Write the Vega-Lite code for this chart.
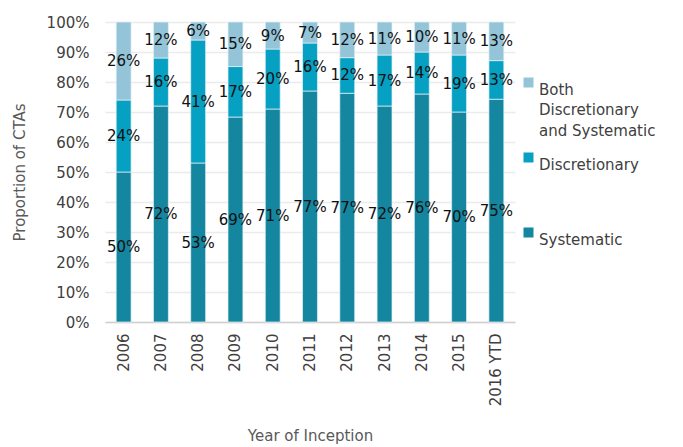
{
  "$schema": "https://vega.github.io/schema/vega-lite/v6.json",
  "width": 410,
  "height": 300,
  "autosize": {"type": "none"},
  "padding": {"left": 105, "top": 22, "right": 168, "bottom": 125},
  "background": "white",
  "config": {
    "font": "DejaVu Sans",
    "view": {"stroke": null},
    "style": {"guide-label": {"lineHeight": 20.5}}
  },
  "data": {
    "values": [
      {"year": "2006", "series": "Systematic", "value": 0.50},
      {"year": "2006", "series": "Discretionary", "value": 0.24},
      {"year": "2006", "series": "Both Discretionary and Systematic", "value": 0.26},
      {"year": "2007", "series": "Systematic", "value": 0.72},
      {"year": "2007", "series": "Discretionary", "value": 0.16},
      {"year": "2007", "series": "Both Discretionary and Systematic", "value": 0.12},
      {"year": "2008", "series": "Systematic", "value": 0.53},
      {"year": "2008", "series": "Discretionary", "value": 0.41},
      {"year": "2008", "series": "Both Discretionary and Systematic", "value": 0.06},
      {"year": "2009", "series": "Systematic", "value": 0.69},
      {"year": "2009", "series": "Discretionary", "value": 0.17},
      {"year": "2009", "series": "Both Discretionary and Systematic", "value": 0.15},
      {"year": "2010", "series": "Systematic", "value": 0.71},
      {"year": "2010", "series": "Discretionary", "value": 0.20},
      {"year": "2010", "series": "Both Discretionary and Systematic", "value": 0.09},
      {"year": "2011", "series": "Systematic", "value": 0.77},
      {"year": "2011", "series": "Discretionary", "value": 0.16},
      {"year": "2011", "series": "Both Discretionary and Systematic", "value": 0.07},
      {"year": "2012", "series": "Systematic", "value": 0.77},
      {"year": "2012", "series": "Discretionary", "value": 0.12},
      {"year": "2012", "series": "Both Discretionary and Systematic", "value": 0.12},
      {"year": "2013", "series": "Systematic", "value": 0.72},
      {"year": "2013", "series": "Discretionary", "value": 0.17},
      {"year": "2013", "series": "Both Discretionary and Systematic", "value": 0.11},
      {"year": "2014", "series": "Systematic", "value": 0.76},
      {"year": "2014", "series": "Discretionary", "value": 0.14},
      {"year": "2014", "series": "Both Discretionary and Systematic", "value": 0.10},
      {"year": "2015", "series": "Systematic", "value": 0.70},
      {"year": "2015", "series": "Discretionary", "value": 0.19},
      {"year": "2015", "series": "Both Discretionary and Systematic", "value": 0.11},
      {"year": "2016 YTD", "series": "Systematic", "value": 0.75},
      {"year": "2016 YTD", "series": "Discretionary", "value": 0.13},
      {"year": "2016 YTD", "series": "Both Discretionary and Systematic", "value": 0.13}
    ]
  },
  "transform": [
    {"stack": "value", "groupby": ["year"], "sort": [{"field": "series", "order": "descending"}], "offset": "normalize", "as": ["y0", "y1"]},
    {"calculate": "(datum.y0 + datum.y1) / 2", "as": "ymid"}
  ],
  "encoding": {
    "x": {
      "field": "year", "type": "nominal", "sort": null,
      "scale": {"paddingInner": 0.6, "paddingOuter": 0.3},
      "axis": {
        "title": "Year of Inception", "titleFontSize": 15, "titleFontWeight": "normal", "titleColor": "#595959", "titlePadding": 23,
        "labelAngle": -90, "labelFontSize": 15, "labelColor": "#404040", "labelPadding": 11,
        "ticks": false, "domainColor": "#d0d0d0", "domainWidth": 1.5
      }
    }
  },
  "layer": [
    {
      "mark": {"type": "bar", "stroke": "#e6f2f6", "strokeWidth": 0.7},
      "encoding": {
        "y": {
          "field": "y0", "type": "quantitative",
          "scale": {"domain": [0, 1], "nice": false},
          "axis": {
            "title": "Proportion of CTAs", "titleFontSize": 15, "titleFontWeight": "normal", "titleColor": "#595959", "titlePadding": 19,
            "format": ".0%", "values": [0, 0.1, 0.2, 0.3, 0.4, 0.5, 0.6, 0.7, 0.8, 0.9, 1],
            "labelOverlap": false, "labelFontSize": 15, "labelColor": "#404040", "labelPadding": 16,
            "ticks": false, "domain": false, "gridColor": "#ebebeb", "gridWidth": 1.5
          }
        },
        "y2": {"field": "y1"},
        "color": {
          "field": "series", "type": "nominal",
          "scale": {
            "domain": ["Both Discretionary and Systematic", "Discretionary", "Systematic"],
            "range": ["#93C4D8", "#05A0C2", "#14869F"]
          },
          "legend": {
            "title": null, "orient": "none", "legendX": 416, "legendY": 53,
            "symbolType": "square", "symbolSize": 100, "symbolStrokeWidth": 0,
            "labelFontSize": 15, "labelColor": "#404040", "labelBaseline": "top", "labelOffset": 3,
            "labelLimit": 300, "rowPadding": 11,
            "labelExpr": "datum.label == 'Both Discretionary and Systematic' ? ['Both', 'Discretionary', 'and Systematic'] : [datum.label, ' ', ' ']"
          }
        }
      }
    },
    {
      "mark": {"type": "text", "fontSize": 15, "color": "#111111"},
      "encoding": {
        "y": {
          "field": "ymid", "type": "quantitative",
          "axis": {
            "title": "Proportion of CTAs", "titleFontSize": 15, "titleFontWeight": "normal", "titleColor": "#595959", "titlePadding": 19,
            "format": ".0%", "values": [0, 0.1, 0.2, 0.3, 0.4, 0.5, 0.6, 0.7, 0.8, 0.9, 1],
            "labelOverlap": false, "labelFontSize": 15, "labelColor": "#404040", "labelPadding": 16,
            "ticks": false, "domain": false, "gridColor": "#ebebeb", "gridWidth": 1.5
          }
        },
        "text": {"field": "value", "type": "quantitative", "format": ".0%"}
      }
    }
  ]
}
